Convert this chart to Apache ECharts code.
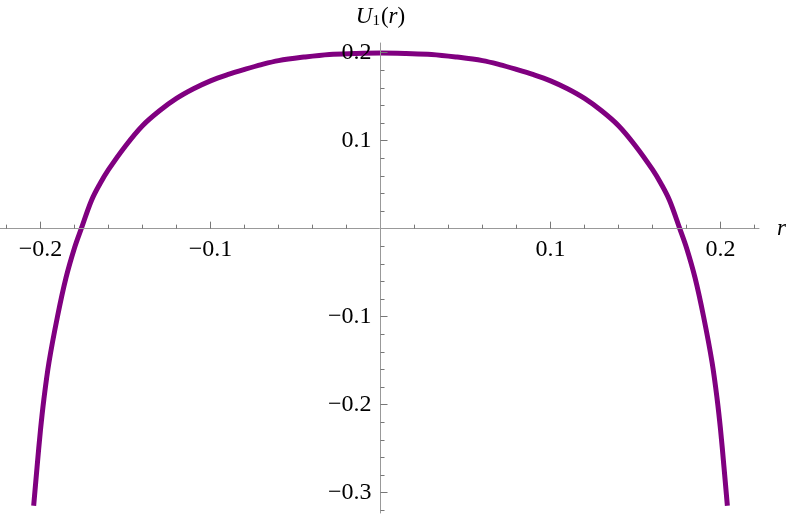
<!DOCTYPE html>
<html>
<head>
<meta charset="utf-8">
<script src="https://cdn.jsdelivr.net/npm/echarts@6/dist/echarts.min.js"></script>
<style>
  html, body { margin: 0; padding: 0; background: #fff; }
  #chart { width: 790px; height: 514px; }
</style>
</head>
<body>
<div id="chart"></div>
<script>
// curve U1(r) (left to right)
const rValues = [
  -0.204, -0.202, -0.200, -0.198, -0.195, -0.190, -0.185, -0.180, -0.176,
  -0.170, -0.165, -0.160, -0.150, -0.140, -0.130, -0.120, -0.110, -0.100,
  -0.090, -0.080, -0.070, -0.060, -0.045, -0.030, -0.015, 0,
  0.015, 0.030, 0.045, 0.060, 0.070, 0.080, 0.090, 0.100, 0.110, 0.120,
  0.130, 0.140, 0.150, 0.160, 0.165, 0.170, 0.176, 0.180, 0.185, 0.190,
  0.195, 0.198, 0.200, 0.202, 0.204
]
const uValues = [
  -0.315, -0.271, -0.229, -0.194, -0.152, -0.100, -0.056, -0.022, 0.000,
  0.032, 0.051, 0.067, 0.094, 0.117, 0.134, 0.148, 0.159, 0.168,
  0.175, 0.181, 0.1865, 0.191, 0.195, 0.198, 0.199, 0.1995,
  0.199, 0.198, 0.195, 0.191, 0.1865, 0.181, 0.175, 0.168, 0.159, 0.148,
  0.134, 0.117, 0.094, 0.067, 0.051, 0.032, 0.000, -0.022, -0.056, -0.100,
  -0.152, -0.194, -0.229, -0.271, -0.315
]

// ticks
const xMajorTicks = [-0.2, -0.1, 0.1, 0.2]
const xMinorTicks = [-0.22, -0.18, -0.16, -0.14, -0.12, -0.08, -0.06, -0.04, -0.02,
  0.02, 0.04, 0.06, 0.08, 0.12, 0.14, 0.16, 0.18, 0.22]
const yMajorTicks = [-0.3, -0.2, -0.1, 0.1, 0.2]
const yMinorTicks = [-0.32, -0.28, -0.26, -0.24, -0.22, -0.18, -0.16, -0.14, -0.12,
  -0.08, -0.06, -0.04, -0.02, 0.02, 0.04, 0.06, 0.08, 0.12, 0.14, 0.16, 0.18]

const X_MIN = -0.2238, X_MAX = 0.2226
const Y_MIN = -0.3232, Y_MAX = 0.2110

const W = 790, H = 514
const G = { left: 0, right: 31, top: 43, bottom: 1 }
const gw = W - G.left - G.right, gh = H - G.top - G.bottom
// axes cross at the origin: shift them in from the grid edges
const xOffset = -(0 - Y_MIN) / (Y_MAX - Y_MIN) * gh
const yOffset = -(0 - X_MIN) / (X_MAX - X_MIN) * gw

const font = 'Liberation Serif'
const axisGray = '#999'

const fmt = v => (v < 0 ? '\u2212' : '') + Math.abs(v).toFixed(1)

const chart = echarts.init(document.getElementById('chart'))

// index 0: axis line, minor ticks, labels; index 1: longer major ticks only
function xAx(major) {
  return {
    type: 'value', min: X_MIN, max: X_MAX, position: 'bottom', offset: xOffset, z: 3,
    splitLine: { show: false },
    axisLine: { show: !major, onZero: false, lineStyle: { color: axisGray, width: 1 } },
    axisTick: {
      show: true, inside: true, length: major ? 7 : 4,
      customValues: major ? xMajorTicks : xMinorTicks,
      lineStyle: { color: '#777', width: 1 }
    },
    axisLabel: !major ? {
      show: true, customValues: xMajorTicks, formatter: fmt, margin: 9,
      fontFamily: font, fontSize: 24, color: '#000'
    } : { show: false },
    name: major ? '' : 'r', nameLocation: 'end', nameGap: 18,
    nameTextStyle: { fontFamily: font, fontStyle: 'italic', fontSize: 23, color: '#000' }
  }
}

function yAx(major) {
  return {
    type: 'value', min: Y_MIN, max: Y_MAX, position: 'left', offset: yOffset, z: 3,
    splitLine: { show: false },
    axisLine: { show: !major, onZero: false, lineStyle: { color: axisGray, width: 1 } },
    axisTick: {
      show: true, inside: true, length: major ? 7 : 4,
      customValues: major ? yMajorTicks : yMinorTicks,
      lineStyle: { color: '#777', width: 1 }
    },
    axisLabel: !major ? {
      show: true, customValues: yMajorTicks, formatter: fmt, margin: 9,
      fontFamily: font, fontSize: 24, color: '#000'
    } : { show: false },
    name: major ? '' : '{u|U}{s|1}{p|(}{r|r}{p|)}', nameLocation: 'end', nameGap: 14,
    nameTextStyle: {
      fontFamily: font, fontSize: 23, color: '#000',
      rich: {
        u: { fontFamily: font, fontStyle: 'italic', fontSize: 23, lineHeight: 25 },
        s: { fontFamily: font, fontSize: 15, lineHeight: 15, padding: [9, 1, 0, 0], verticalAlign: 'bottom' },
        p: { fontFamily: font, fontSize: 23, lineHeight: 25 },
        r: { fontFamily: font, fontStyle: 'italic', fontSize: 23, lineHeight: 25 }
      }
    }
  }
}

chart.setOption({
  animation: false,
  backgroundColor: '#fff',
  grid: Object.assign({ containLabel: false, outerBoundsMode: 'none' }, G),
  xAxis: [xAx(false), xAx(true)],
  yAxis: [yAx(false), yAx(true)],
  series: [{
    type: 'line',
    xAxisIndex: 0, yAxisIndex: 0,
    data: rValues.map((r, i) => [r, uValues[i]]),
    smooth: 0.35,
    showSymbol: false,
    lineStyle: { color: '#800080', width: 5, cap: 'butt' },
    z: 2
  }]
})
</script>
</body>
</html>
